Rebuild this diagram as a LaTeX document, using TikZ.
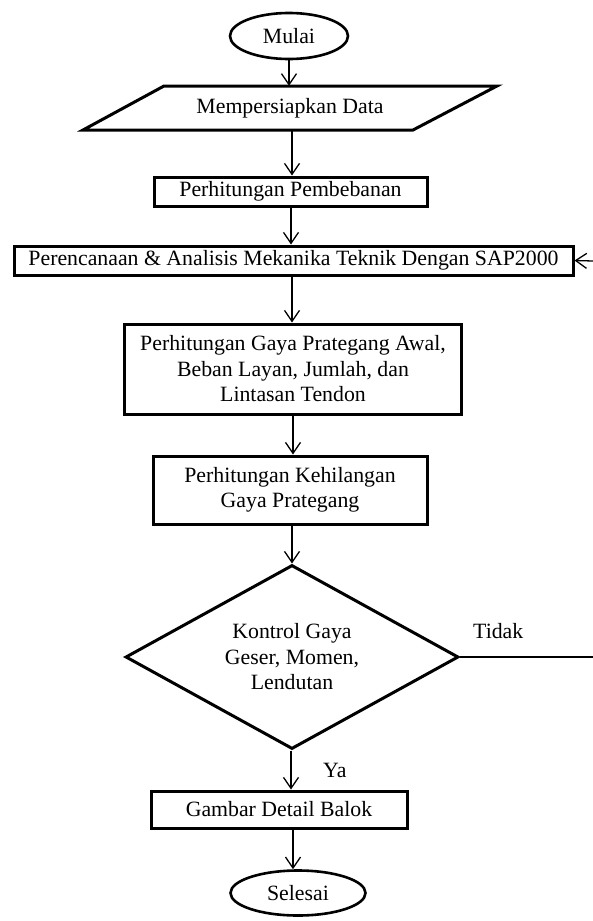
\documentclass[tikz,border=0pt]{standalone}
\usepackage{fontspec}
\setmainfont{Liberation Serif}
\usetikzlibrary{shapes.geometric,arrows.meta}
\begin{document}
\begin{tikzpicture}[x=1pt,y=-1pt,
  every node/.style={font=\fontsize{21.8}{25.5}\selectfont, inner sep=0pt, align=center},
  boxshape/.style={draw, line width=3pt, rectangle},
  endshape/.style={draw, line width=2.6pt, ellipse},
  flow/.style={line width=1.3pt, -{Straight Barb[length=11pt,width=15pt,line width=1.3pt]}},
  plain/.style={line width=1.2pt}]
\useasboundingbox (0,0) rectangle (593,921);
\node[endshape, minimum width=118, minimum height=46] (mulai) at (289,36) {Mulai};
\node[minimum width=414, minimum height=44] (data) at (290,108) {Mempersiapkan Data};
\draw[line width=3pt, line join=miter] (164,86) -- (497,86) -- (413,130) -- (83,130) -- cycle;
\node[boxshape, minimum width=273, minimum height=29] (pemb) at (290.5,191.5) {Perhitungan Pembebanan};
\node[boxshape, minimum width=559, minimum height=29] (sap) at (293.5,260.5) {Perencanaan \& Analisis Mekanika Teknik Dengan SAP2000};
\node[boxshape, minimum width=337, minimum height=90] (gaya) at (293,369) {Perhitungan Gaya Prategang Awal,\\Beban Layan, Jumlah, dan\\Lintasan Tendon};
\node[boxshape, minimum width=274, minimum height=68] (hil) at (290,490) {Perhitungan Kehilangan\\Gaya Prategang};
\node[draw, line width=3pt, diamond, minimum width=333, minimum height=184] (kon) at (292,657) {};
\node (kontext) at (kon.center) {Kontrol Gaya\\Geser, Momen,\\Lendutan};
\node[boxshape, minimum width=256, minimum height=37] (gambar) at (279,809.5) {Gambar Detail Balok};
\node[endshape, minimum width=135, minimum height=45] (selesai) at (298,893) {Selesai};
\node[anchor=base west] (tidak) at (473,638) {Tidak};
\node[anchor=base west] (ya) at (323,777) {Ya};
\coordinate (loopin) at (593,261);
\coordinate (loopout) at (593,657);
\draw[flow] (289,60) -- (data.north -| 289,0);
\draw[flow] (data.south -| 292,0) -- (pemb.north -| 292,0);
\draw[flow] (pemb.south -| 291,0) -- (sap.north -| 291,0);
\draw[flow] (sap.south -| 292,0) -- (gaya.north -| 292,0);
\draw[flow] (gaya.south -| 293,0) -- (hil.north -| 293,0);
\draw[flow] (hil.south -| 292,0) -- (kon.north);
\draw[flow] (kon.south -| 291,0) -- (gambar.north -| 291,0);
\draw[flow] (gambar.south -| 293,0) -- (selesai.north -| 293,0);
\draw[plain] (kon.east) -- (loopout);
\draw[flow] (loopin) -- (sap.east);
\end{tikzpicture}
\end{document}
